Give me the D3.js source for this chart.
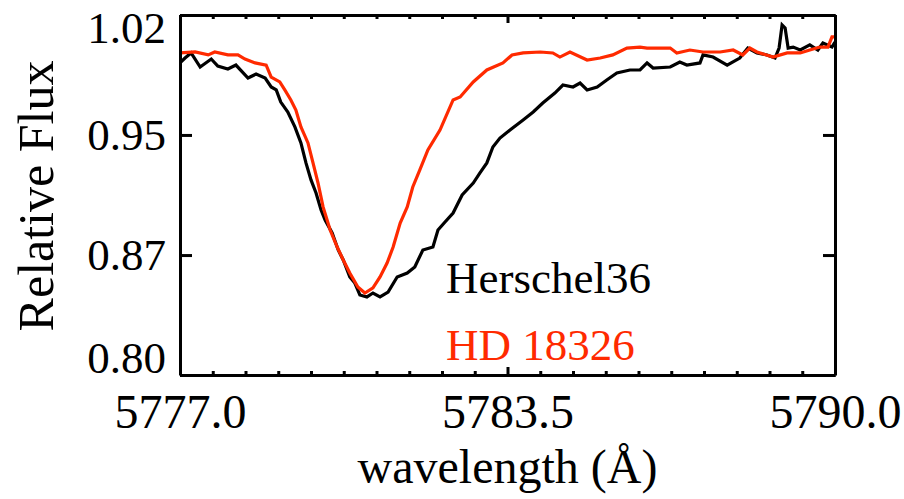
<!DOCTYPE html>
<html><head><meta charset="utf-8">
<script src="https://cdn.jsdelivr.net/npm/d3@7"></script>
<style>
html,body{margin:0;padding:0;background:#fff;}
text{font-family:"Liberation Serif","DejaVu Serif",serif;}
</style>
</head><body>
<svg id="chart" width="904" height="499"></svg>
<script>
// ---- data ----
const herschelWave = [5777.00,5777.10,5777.22,5777.40,5777.62,5777.75,5777.95,5778.11,5778.35,5778.51,5778.69,5778.81,5778.91,5779.00,5779.14,5779.28,5779.40,5779.50,5779.60,5779.70,5779.80,5779.88,5780.02,5780.14,5780.24,5780.37,5780.47,5780.57,5780.71,5780.83,5780.97,5781.13,5781.31,5781.51,5781.66,5781.82,5782.02,5782.12,5782.26,5782.42,5782.60,5782.82,5782.95,5783.09,5783.21,5783.35,5783.55,5783.81,5784.01,5784.20,5784.44,5784.60,5784.80,5784.94,5785.08,5785.28,5785.47,5785.67,5785.93,5786.13,5786.27,5786.39,5786.73,5786.92,5787.06,5787.32,5787.38,5787.58,5787.86,5788.11,5788.27,5788.45,5788.65,5788.81,5788.89,5788.95,5789.01,5789.07,5789.17,5789.31,5789.50,5789.66,5789.76,5789.94,5790.00];
const herschelFlux = [0.9907,0.9937,0.9968,0.9882,0.9931,0.9888,0.9870,0.9894,0.9815,0.9839,0.9815,0.9760,0.9742,0.9668,0.9607,0.9516,0.9418,0.9296,0.9192,0.9112,0.9008,0.8947,0.8868,0.8764,0.8703,0.8599,0.8562,0.8489,0.8477,0.8501,0.8477,0.8507,0.8599,0.8623,0.8660,0.8764,0.8782,0.8886,0.8935,0.8990,0.9100,0.9173,0.9234,0.9296,0.9393,0.9448,0.9497,0.9558,0.9607,0.9662,0.9723,0.9772,0.9760,0.9784,0.9742,0.9760,0.9803,0.9846,0.9864,0.9864,0.9907,0.9876,0.9882,0.9913,0.9894,0.9907,0.9956,0.9943,0.9894,0.9937,0.9998,0.9968,0.9956,0.9937,0.9998,1.0139,1.0121,0.9998,1.0004,0.9986,1.0017,0.9986,1.0029,1.0004,1.0035];
const hdWave = [5777.00,5777.30,5777.56,5777.69,5777.95,5778.15,5778.29,5778.49,5778.71,5778.81,5778.98,5779.08,5779.20,5779.30,5779.40,5779.54,5779.64,5779.74,5779.84,5779.98,5780.12,5780.24,5780.37,5780.53,5780.67,5780.83,5780.97,5781.11,5781.23,5781.37,5781.51,5781.62,5781.76,5781.92,5782.16,5782.42,5782.56,5782.82,5783.09,5783.41,5783.59,5783.81,5784.15,5784.40,5784.54,5784.74,5785.08,5785.34,5785.59,5785.87,5786.13,5786.27,5786.59,5786.73,5786.86,5787.12,5787.38,5787.72,5787.98,5788.17,5788.31,5788.45,5788.77,5789.05,5789.31,5789.50,5789.70,5789.86,5789.94,5790.00];
const hdFlux = [0.9968,0.9974,0.9956,0.9974,0.9956,0.9956,0.9931,0.9907,0.9894,0.9821,0.9791,0.9742,0.9681,0.9619,0.9516,0.9418,0.9296,0.9173,0.9027,0.8886,0.8782,0.8703,0.8623,0.8538,0.8501,0.8532,0.8599,0.8684,0.8782,0.8929,0.9027,0.9149,0.9253,0.9375,0.9497,0.9681,0.9699,0.9791,0.9864,0.9907,0.9956,0.9968,0.9974,0.9968,0.9943,0.9974,0.9925,0.9937,0.9956,0.9998,1.0004,0.9998,0.9998,0.9998,0.9968,0.9986,0.9974,0.9974,0.9986,0.9956,0.9998,0.9974,0.9943,0.9968,0.9968,0.9986,1.0004,1.0004,1.0066,1.0066];
const seriesNames = ["Herschel36", "HD 18326"];
const seriesColors = ["#000000", "#ff2a00"];
const xMajorTicks = [5777.0, 5783.5, 5790.0];
const xTickLabels = ["5777.0", "5783.5", "5790.0"];
const yTicks = [0.80, 0.8733, 0.9467, 1.02];
const yTickLabels = ["0.80", "0.87", "0.95", "1.02"];
const xDomain = [5777.0, 5790.0];
const yDomain = [0.80, 1.02];

// ---- layout ----
const svg = d3.select("#chart");
const L = 180, R = 835, T = 15, B = 375;
const x = d3.scaleLinear().domain(xDomain).range([L, R]);
const y = d3.scaleLinear().domain(yDomain).range([B, T]);

const line = d3.line().x(d => x(d[0])).y(d => y(d[1]));
const series = [
  d3.zip(herschelWave, herschelFlux),
  d3.zip(hdWave, hdFlux)
];
series.forEach((s, i) => {
  svg.append("path").datum(s)
    .attr("d", line)
    .attr("fill", "none")
    .attr("stroke", seriesColors[i])
    .attr("stroke-width", 3.2)
    .attr("stroke-linejoin", "miter");
});

// minor ticks
const minorTicks = d3.range(0, 21).map(i => xDomain[0] + i * 0.65).filter(v => !xMajorTicks.some(m => Math.abs(m - v) < 1e-6));

const fontSize = 45, bigFont = 48;
// bottom axis
const gB = svg.append("g").attr("transform", `translate(0,${B})`)
  .call(d3.axisBottom(x).tickValues(xMajorTicks).tickFormat((d, i) => xTickLabels[i]).tickSizeInner(-8).tickSizeOuter(0).tickPadding(34));
const gBm = svg.append("g").attr("transform", `translate(0,${B})`)
  .call(d3.axisBottom(x).tickValues(minorTicks).tickFormat("").tickSizeInner(-4).tickSizeOuter(0));
// top axis
const gT = svg.append("g").attr("transform", `translate(0,${T})`)
  .call(d3.axisTop(x).tickValues(xMajorTicks).tickFormat("").tickSizeInner(-8).tickSizeOuter(0));
const gTm = svg.append("g").attr("transform", `translate(0,${T})`)
  .call(d3.axisTop(x).tickValues(minorTicks).tickFormat("").tickSizeInner(-4).tickSizeOuter(0));
// left axis
const gL = svg.append("g").attr("transform", `translate(${L},0)`)
  .call(d3.axisLeft(y).tickValues(yTicks).tickFormat((d, i) => yTickLabels[i]).tickSizeInner(-12).tickSizeOuter(0).tickPadding(14));
// right axis
const gR = svg.append("g").attr("transform", `translate(${R},0)`)
  .call(d3.axisRight(y).tickValues(yTicks).tickFormat("").tickSizeInner(-12).tickSizeOuter(0));

[gB, gBm, gT, gTm, gL, gR].forEach(g => {
  g.selectAll("path.domain").attr("stroke", "#000").attr("stroke-width", 3);
  g.selectAll(".tick line").attr("stroke", "#000").attr("stroke-width", 3);
  g.selectAll("text").attr("font-family", '"Liberation Serif", serif').attr("font-size", fontSize).attr("fill", "#000");
});
gB.selectAll(".tick text").attr("font-size", bigFont).attr("dy", "0.4em");
gL.selectAll(".tick text").attr("dy", (d, i) => i === 0 ? "-0.05em" : (i === yTicks.length - 1 ? "0.62em" : "0.32em"));

// axis titles
svg.append("text").attr("x", (L + R) / 2).attr("y", 483)
  .attr("text-anchor", "middle").attr("font-size", bigFont).text("wavelength (Å)");
svg.append("text").attr("transform", `translate(53,196) rotate(-90)`)
  .attr("text-anchor", "middle").attr("font-size", 50).text("Relative Flux");

// legend
const legendY = [293, 360];
seriesNames.forEach((n, i) => {
  svg.append("text").attr("x", 446).attr("y", legendY[i])
    .attr("font-size", fontSize).attr("fill", seriesColors[i]).text(n);
});
</script>
</body></html>
